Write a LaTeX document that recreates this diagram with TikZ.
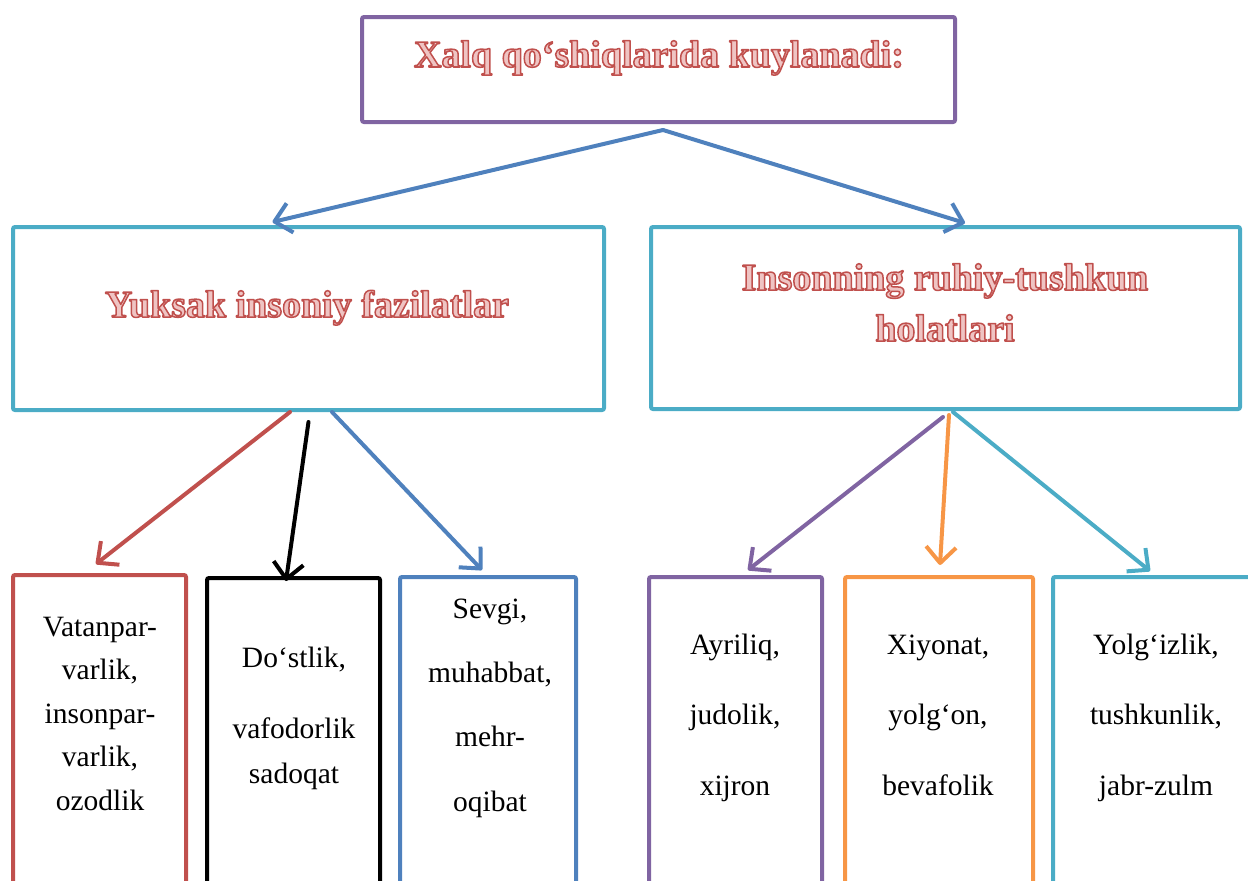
\documentclass[tikz,border=0pt]{standalone}
\usepackage{fontspec}
\setmainfont{Liberation Serif}
\usetikzlibrary{arrows.meta}
\definecolor{cPurple}{HTML}{8064A2}
\definecolor{cCyan}{HTML}{4BACC6}
\definecolor{cBlue}{HTML}{4F81BD}
\definecolor{cRed}{HTML}{C0504D}
\definecolor{cOrange}{HTML}{F79646}
\definecolor{cPink}{HTML}{EFC4C3}
\newcommand\wordart[1]{\textcolor{cPink}{\special{pdf:literal direct 0.753 0.314 0.302 RG 2 Tr 1.5 w 1 j}#1\special{pdf:literal direct 0 Tr 0.4 w 0 j}}}
\tikzset{
  box/.style={draw, line width=4pt, rounded corners=2pt, inner sep=0pt},
  head/.style={font=\fontsize{38}{51}\selectfont\bfseries, align=center, inner sep=0pt, anchor=base},
  item/.style={font=\fontsize{29.5}{#1}\selectfont, align=center, inner sep=0pt, anchor=base, text=black},
  conn/.style={line width=4pt, line cap=round, -{Straight Barb[length=16pt,width=30pt,line join=round]}}
}
\begin{document}
\begin{tikzpicture}[x=1pt,y=-1pt]
\path[use as bounding box] (0,0) rectangle (1248,881);
\clip (0,0) rectangle (1248,881);
% boxes
\node[box, draw=cPurple, minimum width=593pt, minimum height=105pt] (T) at (658.5,69.5) {};
\node[box, draw=cCyan, minimum width=591pt, minimum height=183pt] (M1) at (308.5,318.5) {};
\node[box, draw=cCyan, minimum width=589pt, minimum height=182pt] (M2) at (945.5,318) {};
\node[box, draw=cRed, minimum width=173pt, minimum height=385pt] (B1) at (99.5,767.5) {};
\node[box, draw=black, minimum width=173pt, minimum height=382pt] (B2) at (293.5,769) {};
\node[box, draw=cBlue, minimum width=176pt, minimum height=383pt] (B3) at (488,768.5) {};
\node[box, draw=cPurple, minimum width=173pt, minimum height=383pt] (B4) at (735.5,768.5) {};
\node[box, draw=cOrange, minimum width=188pt, minimum height=383pt] (B5) at (939,768.5) {};
\node[box, draw=cCyan, minimum width=247pt, minimum height=383pt] (B6) at (1176.5,768.5) {};
% titles
\node[head] (tT) at (659,67) {\wordart{Xalq qo‘shiqlarida kuylanadi:}};
\node[head] (tM1) at (307,317) {\wordart{Yuksak insoniy fazilatlar}};
\node[head] (tM2) at (945,341) {\wordart{Insonning ruhiy-tushkun}\\\wordart{holatlari}};
% items (anchor base = last line baseline)
\node[item=43.5] (t1) at (100,810) {Vatanpar-\\varlik,\\insonpar-\\varlik,\\ozodlik};
\node[item=45] (t2) at (294,783) {Do‘stlik,\\[26pt]vafodorlik\\sadoqat};
\node[item=64.3] (t3) at (490,811) {Sevgi,\\muhabbat,\\mehr-\\oqibat};
\node[item=70.5] (t4) at (735,795) {Ayriliq,\\judolik,\\xijron};
\node[item=70.5] (t5) at (938,795) {Xiyonat,\\yolg‘on,\\bevafolik};
\node[item=70.5] (t6) at (1156,795) {Yolg‘izlik,\\tushkunlik,\\jabr-zulm};
% connectors
\draw[conn, cBlue] ([xshift=4.5pt,yshift=-6pt]T.south) -- ([xshift=-36pt,yshift=3pt]M1.north);
\draw[conn, cBlue] ([xshift=4.5pt,yshift=-6pt]T.south) -- ([xshift=19.5pt,yshift=2pt]M2.north);
\draw[conn, cRed] ([xshift=-18.5pt]M1.south) -- ([xshift=-3.5pt,yshift=9pt]B1.north);
\draw[conn, black] ([yshift=-10pt]M1.south) -- ([xshift=-7.5pt,yshift=-5pt]B2.north);
\draw[conn, cBlue] ([xshift=23.5pt]M1.south) -- ([xshift=-6pt,yshift=5pt]B3.north);
\draw[conn, cPurple] ([xshift=-2.5pt,yshift=-6pt]M2.south) -- ([xshift=12.5pt,yshift=5pt]B4.north);
\draw[conn, cOrange] ([xshift=3.5pt,yshift=-4pt]M2.south) -- ([xshift=1pt,yshift=10pt]B5.north);
\draw[conn, cCyan] ([xshift=7.5pt,yshift=-1pt]M2.south) -- ([xshift=-26.5pt,yshift=4pt]B6.north);
\end{tikzpicture}
\end{document}
